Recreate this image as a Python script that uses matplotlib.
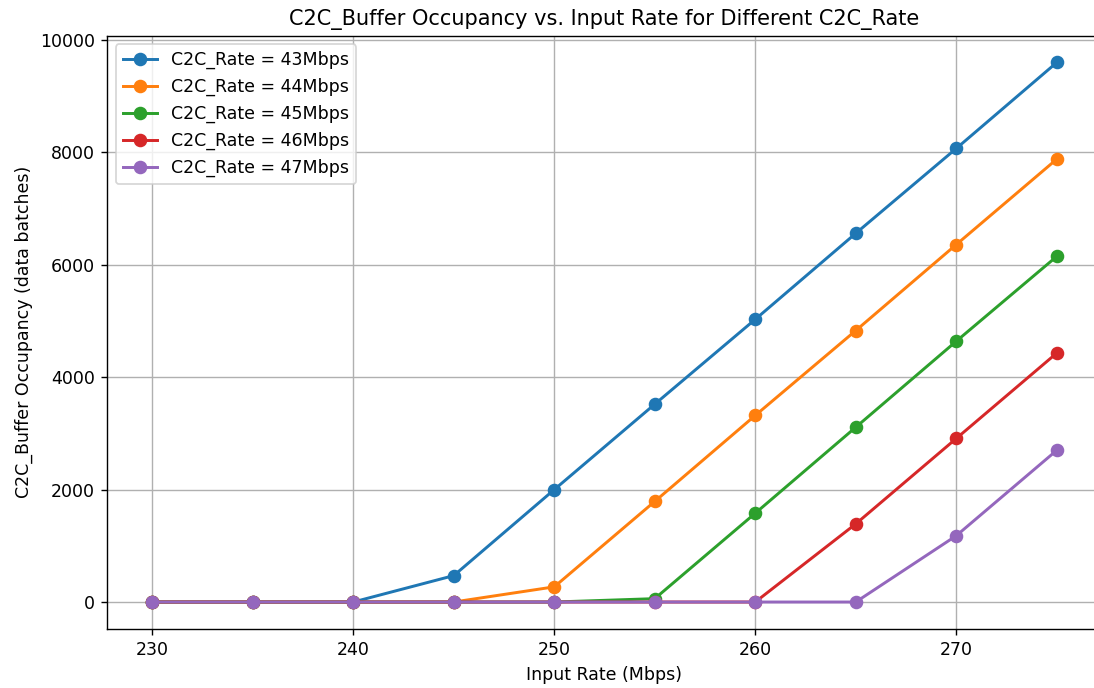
import matplotlib
matplotlib.use("Agg")
import matplotlib.pyplot as plt

input_rate = [230, 235, 240, 245, 250, 255, 260, 265, 270, 275]
c2c_rates = [43, 44, 45, 46, 47]
occ_43 = [0, 0, 0, 470, 2000, 3520, 5030, 6560, 8070, 9600]
occ_44 = [0, 0, 0, 0, 270, 1790, 3320, 4830, 6360, 7880]
occ_45 = [0, 0, 0, 0, 0, 60, 1580, 3110, 4640, 6150]
occ_46 = [0, 0, 0, 0, 0, 0, 0, 1390, 2910, 4430]
occ_47 = [0, 0, 0, 0, 0, 0, 0, 0, 1180, 2700]
series = [occ_43, occ_44, occ_45, occ_46, occ_47]

dpi = 125
fig = plt.figure(figsize=(1094 / dpi, 688 / dpi), dpi=dpi)
ax = fig.add_axes([107 / 1094, 59 / 688, (1102 - 107) / 1094, (629 - 35.5) / 688])

for rate, vals in zip(c2c_rates, series):
    ax.plot(input_rate, vals, marker='o', markersize=6.8, linewidth=1.7,
            label=f'C2C_Rate = {rate}Mbps')

ax.set_title('C2C_Buffer Occupancy vs. Input Rate for Different C2C_Rate')
ax.set_xlabel('Input Rate (Mbps)')
ax.set_ylabel('C2C_Buffer Occupancy (data batches)')
ax.legend(loc='upper left')
ax.grid(True)
ax.spines['right'].set_visible(False)

fig.savefig('out.png', dpi=dpi)
